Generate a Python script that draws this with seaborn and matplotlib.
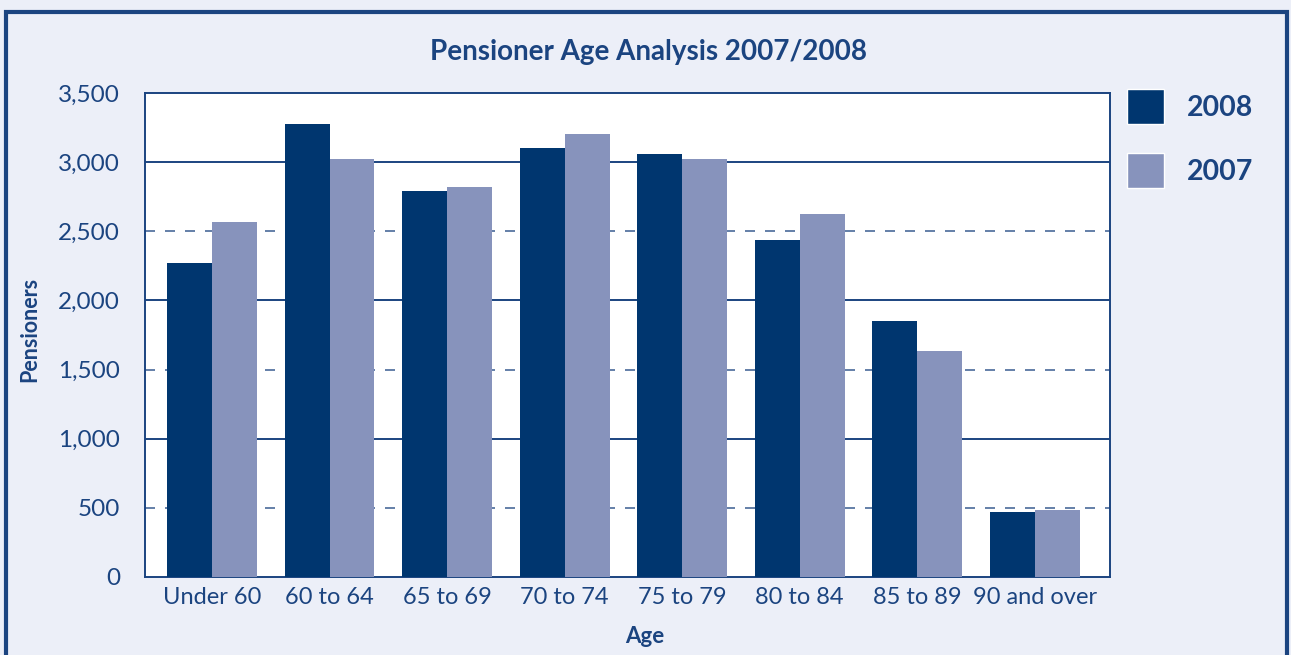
import numpy as np
import pandas as pd
import seaborn as sns
import matplotlib.pyplot as plt
from matplotlib.patches import Patch, Rectangle

# values
ages = ["Under 60", "60 to 64", "65 to 69", "70 to 74",
        "75 to 79", "80 to 84", "85 to 89", "90 and over"]
pensioners_2008 = [2270, 3275, 2790, 3105, 3060, 2440, 1850, 470]
pensioners_2007 = [2570, 3025, 2820, 3205, 3025, 2625, 1635, 485]
years = ["2008", "2007"]

navy = "#00366F"
light = "#8793BC"
ink = "#1B4480"
bg = "#ECEFF8"

df = pd.DataFrame({
    "Age": ages * 2,
    "Pensioners": pensioners_2008 + pensioners_2007,
    "Year": [years[0]] * len(ages) + [years[1]] * len(ages),
})

sns.set_style("white")
plt.rcParams["font.family"] = ["Lato", "DejaVu Sans"]

fig = plt.figure(figsize=(12.91, 6.55), dpi=100, facecolor=bg)
ax = fig.add_axes([0.1123, 0.1191, 0.7475, 0.7389])
ax.set_facecolor("white")

sns.barplot(data=df, x="Age", y="Pensioners", hue="Year", hue_order=years,
            palette=[navy, light], width=0.765, saturation=1, ax=ax,
            legend=False, linewidth=0, zorder=3)

# gridlines: solid at thousands, dashed at the halves
for v in [1000, 2000, 3000]:
    ax.axhline(v, color=ink, lw=1.4, zorder=1)
for v in [500, 1500, 2500]:
    ax.axhline(v, color=ink, lw=1.2, ls=(0, (6, 6)), alpha=0.8, zorder=1)

ax.set_ylim(0, 3500)
ax.set_xlim(-0.57, len(ages) - 0.36)
ax.set_yticks(np.arange(0, 3501, 500))
ax.set_yticklabels([f"{v:,}" for v in range(0, 3501, 500)])
ax.tick_params(axis="y", length=0, pad=18, labelsize=17.5, labelcolor=ink)
ax.tick_params(axis="x", length=0, pad=7, labelsize=17, labelcolor=ink)
for s in ax.spines.values():
    s.set_color(ink)
    s.set_linewidth(1.4)

ax.set_xlabel("Age", fontsize=16, fontweight="bold", color=ink, va="center")
ax.xaxis.set_label_coords(0.518, -0.122)
ax.set_ylabel("Pensioners", fontsize=15.5, fontweight="bold", color=ink, va="center")
ax.yaxis.set_label_coords(-0.119, 0.512)

fig.text(0.502, 0.92, "Pensioner Age Analysis 2007/2008", ha="center", va="center",
         fontsize=20, fontweight="bold", color=ink)

handles = [Patch(facecolor=navy), Patch(facecolor=light)]
leg = fig.legend(handles, years, loc="upper left", bbox_to_anchor=(0.864, 0.882),
                 frameon=False, fontsize=20.5, handlelength=1.3, handleheight=1.55,
                 handletextpad=0.8, labelspacing=1.0, borderaxespad=0)
for t in leg.get_texts():
    t.set_color(ink)
    t.set_fontweight("bold")

# outer frame of the panel (bottom edge is cut off in the reference)
fig.patches.append(Rectangle((6 / 1291, -0.05), 1281 / 1291, 1.05 - 12 / 655,
                             transform=fig.transFigure, fill=False,
                             edgecolor=ink, lw=3))

fig.savefig("out.png", dpi=100, facecolor=bg)
